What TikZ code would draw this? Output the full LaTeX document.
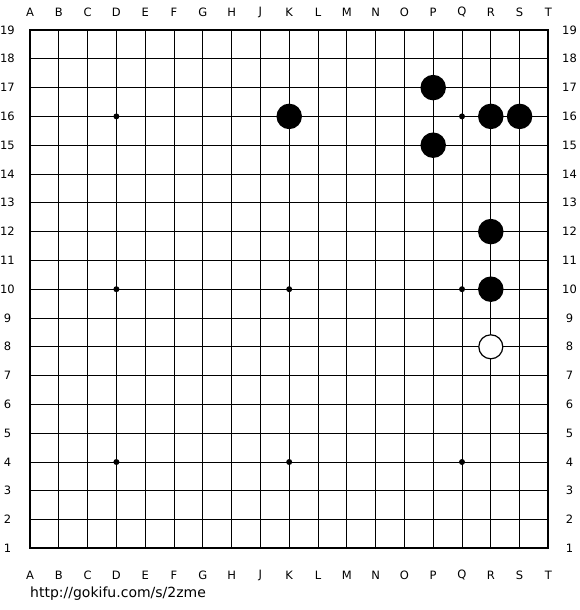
\documentclass[tikz,border=0pt]{standalone}
\usepackage{fontspec}
\setmainfont{DejaVu Sans}
\usetikzlibrary{positioning}

\begin{document}
\begin{tikzpicture}[x=1pt, y=-1pt,
    blackstone/.style={circle, fill=black, inner sep=0pt, minimum size=25.5pt},
    whitestone/.style={circle, draw=black, line width=1.2pt, fill=white, inner sep=0pt, minimum size=24pt},
    hoshi/.style={circle, fill=black, inner sep=0pt, minimum size=6pt},
    coordlabel/.style={font=\fontsize{11.5}{12}\selectfont, inner sep=0pt}]
    \useasboundingbox (0,0) rectangle (580,610);

    % board lines
    \foreach \i in {1,...,17} {
        \draw[line width=1pt] (30+\i*28.8, 30) -- (30+\i*28.8, 548.4);
        \draw[line width=1pt] (30, 30+\i*28.8) -- (548.4, 30+\i*28.8);
    }
    \draw[line width=2pt] (30,30) rectangle (548.4,548.4);

    % column letters
    \foreach \l [count=\i from 0] in {A,B,C,D,E,F,G,H,J,K,L,M,N,O,P,Q,R,S,T} {
        \node[coordlabel] (top\l) at (30+\i*28.8, 12) {\l};
        \node[coordlabel] (bot\l) at (30+\i*28.8, 575) {\l};
    }
    % row numbers
    \foreach \r in {1,...,19} {
        \node[coordlabel] (left\r) at (7.5, 30+19*28.8-\r*28.8) {\r};
        \node[coordlabel] (right\r) at (569.5, 30+19*28.8-\r*28.8) {\r};
    }

    % star points
    \foreach \c/\r in {3/4,9/4,15/4,3/10,9/10,15/10,3/16,9/16,15/16}
        \node[hoshi] (hoshi\c-\r) at (30+\c*28.8, 30+19*28.8-\r*28.8) {};

    % stones
    \foreach \c/\r/\n in {14/17/P17,9/16/K16,16/16/R16,17/16/S16,14/15/P15,16/12/R12,16/10/R10}
        \node[blackstone] (\n) at (30+\c*28.8, 30+19*28.8-\r*28.8) {};
    \node[whitestone] (R8) at (30+16*28.8, 30+11*28.8) {};

    \node[anchor=west, font=\fontsize{14}{16}\selectfont, inner sep=0pt] (url) at (30, 594) {http://gokifu.com/s/2zme};
\end{tikzpicture}
\end{document}
